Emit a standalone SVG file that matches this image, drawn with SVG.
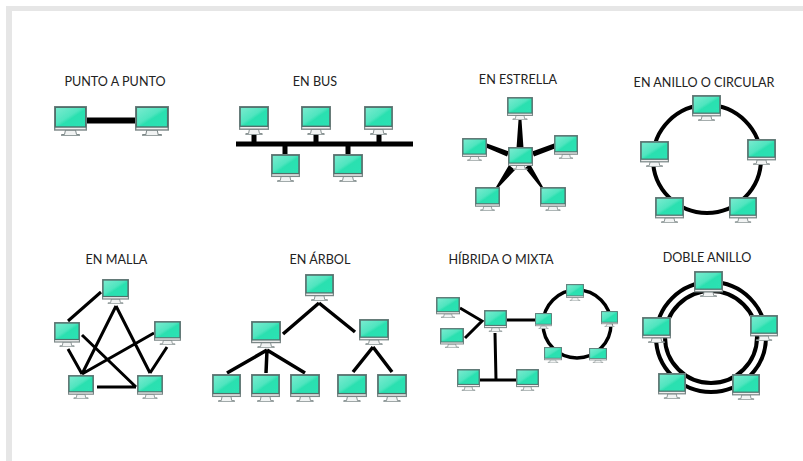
<svg xmlns="http://www.w3.org/2000/svg" width="803" height="461" viewBox="0 0 803 461">
<style>
text{font-family:Lato,"Open Sans","Liberation Sans",sans-serif;font-size:12.6px;fill:#222;text-anchor:middle}
.l{stroke:#000;fill:none;stroke-width:3}
.t{stroke:#000;fill:none;stroke-width:3.500}
.r{stroke:#000;fill:none;stroke-width:4}
.s{stroke:#000;fill:none;stroke-width:5}
</style>
<defs>
<filter id="soft" x="-2%" y="-2%" width="104%" height="104%"><feGaussianBlur stdDeviation="0.35"/></filter>
<linearGradient id="scr" x1="0" y1="0" x2="1" y2="1">
<stop offset="0" stop-color="#7cebd0"/><stop offset="0.45" stop-color="#4fe5bf"/><stop offset="0.55" stop-color="#2be0b0"/><stop offset="1" stop-color="#2de2b4"/>
</linearGradient>
<symbol id="pc" viewBox="0 0 33 30" preserveAspectRatio="none">
<path d="M11.500 24h10l1 4.500h3v1.200h-18v-1.200h3z" fill="#f1f3f3" stroke="#7d8888" stroke-width="1"/>
<rect x=".7" y=".7" width="31.600" height="23.300" fill="#eeeeee" stroke="#7b8787" stroke-width="1.400"/>
<rect x="1.300" y="1.300" width="30.400" height="19.700" fill="url(#scr)" stroke="#4f6f6b" stroke-width="1.400"/>
</symbol>
</defs>
<rect width="803" height="461" fill="#fff"/>
<path d="M6 6H803V11H12V461H6z" fill="#e6e6e6"/>

<g id="connectors" filter="url(#soft)">
<path class="s" style="stroke-width:6" d="M87 120.500H135"/>
<path class="s" d="M236 144H413M254 134V144M316 134V144M379 134V144M285 144V154M348 144V154"/>
<path d="M518.500 120h3l2 28h-7zM487 143.500l22 8-2 5-20-8.500zM554 143.500l1 5-21 8-2-5zM496 187l2 1 17-18-6-5zM543 187l-2 1-16-20 5-4z" fill="#000"/>
<circle class="r" cx="707" cy="159" r="54"/>
<path class="l" d="M101 292L68 321M116 306L82 374M116 306L150 373M154 333L82 374M82 335L136 387M68 349L82 374M167 347L150 373M97 387H136"/>
<path class="t" d="M319 303L283 334M319 303L355 332M267 350L227 373M267 350L266 373M267 350L305 373M373 347L353 372M373 347L392 372"/>
<circle class="r" style="stroke-width:3.400" cx="577" cy="324" r="34"/>
<path class="l" d="M460 308L482 321L465 338M507 320H535M495 333L496 380M480 380H516"/>
<circle class="r" cx="711" cy="337" r="55"/>
<circle class="r" cx="711" cy="337" r="46"/>
</g>

<g id="punto-a-punto">
<text x="115" y="86">PUNTO A PUNTO</text>
<use href="#pc" x="54" y="106" width="33" height="30" filter="url(#soft)"/>
<use href="#pc" x="135" y="106" width="34" height="30" filter="url(#soft)"/>
</g>
<g id="en-bus">
<text x="315" y="86">EN BUS</text>
<use href="#pc" x="239" y="106" width="30" height="29" filter="url(#soft)"/>
<use href="#pc" x="301" y="106" width="30" height="29" filter="url(#soft)"/>
<use href="#pc" x="364" y="106" width="29" height="29" filter="url(#soft)"/>
<use href="#pc" x="271" y="154" width="29" height="28" filter="url(#soft)"/>
<use href="#pc" x="333" y="154" width="30" height="28" filter="url(#soft)"/>
</g>
<g id="en-estrella">
<text x="518" y="84">EN ESTRELLA</text>
<use href="#pc" x="507" y="97" width="26" height="23" filter="url(#soft)"/>
<use href="#pc" x="462" y="138" width="25" height="23" filter="url(#soft)"/>
<use href="#pc" x="554" y="135" width="24" height="24" filter="url(#soft)"/>
<use href="#pc" x="508" y="147" width="25" height="23" filter="url(#soft)"/>
<use href="#pc" x="475" y="187" width="25" height="24" filter="url(#soft)"/>
<use href="#pc" x="540" y="187" width="26" height="24" filter="url(#soft)"/>
</g>
<g id="en-anillo">
<text x="704" y="87">EN ANILLO O CIRCULAR</text>
<use href="#pc" x="692" y="95" width="29" height="26" filter="url(#soft)"/>
<use href="#pc" x="640" y="141" width="29" height="26" filter="url(#soft)"/>
<use href="#pc" x="747" y="139" width="29" height="26" filter="url(#soft)"/>
<use href="#pc" x="655" y="197" width="29" height="26" filter="url(#soft)"/>
<use href="#pc" x="729" y="197" width="28" height="26" filter="url(#soft)"/>
</g>
<g id="en-malla">
<text x="116.500" y="264">EN MALLA</text>
<use href="#pc" x="102" y="279" width="27" height="25" filter="url(#soft)"/>
<use href="#pc" x="54" y="322" width="26" height="25" filter="url(#soft)"/>
<use href="#pc" x="154" y="321" width="27" height="24" filter="url(#soft)"/>
<use href="#pc" x="68" y="375" width="26" height="24" filter="url(#soft)"/>
<use href="#pc" x="137" y="375" width="26" height="24" filter="url(#soft)"/>
</g>
<g id="en-arbol">
<text x="320" y="264">EN ÁRBOL</text>
<use href="#pc" x="305" y="274" width="29" height="27" filter="url(#soft)"/>
<use href="#pc" x="251" y="321" width="30" height="27" filter="url(#soft)"/>
<use href="#pc" x="359" y="319" width="30" height="26" filter="url(#soft)"/>
<use href="#pc" x="212" y="374" width="29" height="28" filter="url(#soft)"/>
<use href="#pc" x="251" y="374" width="29" height="28" filter="url(#soft)"/>
<use href="#pc" x="290" y="374" width="30" height="28" filter="url(#soft)"/>
<use href="#pc" x="337" y="374" width="30" height="28" filter="url(#soft)"/>
<use href="#pc" x="377" y="374" width="30" height="28" filter="url(#soft)"/>
</g>
<g id="hibrida">
<text x="501" y="264">HÍBRIDA O MIXTA</text>
<use href="#pc" x="436" y="297" width="24" height="21" filter="url(#soft)"/>
<use href="#pc" x="440" y="328" width="24" height="20" filter="url(#soft)"/>
<use href="#pc" x="484" y="310" width="23" height="22" filter="url(#soft)"/>
<use href="#pc" x="535" y="313" width="17" height="16" filter="url(#soft)"/>
<use href="#pc" x="566" y="284" width="18" height="17" filter="url(#soft)"/>
<use href="#pc" x="601" y="311" width="17" height="16" filter="url(#soft)"/>
<use href="#pc" x="589" y="348" width="18" height="15" filter="url(#soft)"/>
<use href="#pc" x="544" y="347" width="18" height="16" filter="url(#soft)"/>
<use href="#pc" x="457" y="369" width="23" height="22" filter="url(#soft)"/>
<use href="#pc" x="516" y="369" width="23" height="22" filter="url(#soft)"/>
</g>
<g id="doble-anillo">
<text x="707" y="262">DOBLE ANILLO</text>
<use href="#pc" x="694" y="271" width="29" height="26" filter="url(#soft)"/>
<use href="#pc" x="642" y="317" width="29" height="26" filter="url(#soft)"/>
<use href="#pc" x="750" y="315" width="28" height="26" filter="url(#soft)"/>
<use href="#pc" x="658" y="373" width="28" height="26" filter="url(#soft)"/>
<use href="#pc" x="732" y="374" width="28" height="26" filter="url(#soft)"/>
</g>
</svg>
